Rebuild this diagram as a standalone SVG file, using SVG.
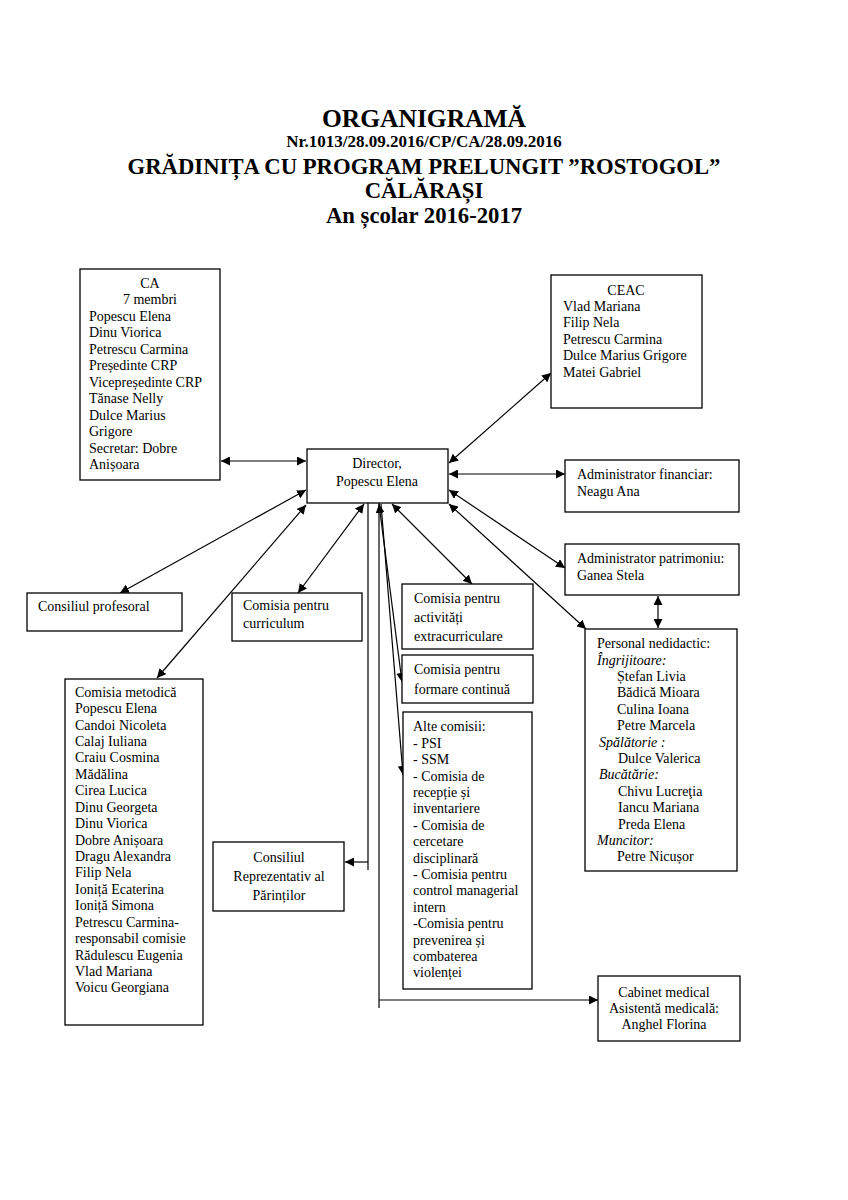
<svg xmlns="http://www.w3.org/2000/svg" width="848" height="1200" viewBox="0 0 848 1200">
<style>
text{font-family:"Liberation Serif","Times New Roman",serif;font-size:14px;fill:#000}
.t{font-weight:bold;text-anchor:middle}
.c{text-anchor:middle}
.i{font-style:italic}
rect{fill:#fff;stroke:#000;stroke-width:1.3}
.cn line,.cn path{stroke:#000;stroke-width:1.2;fill:none}
</style>
<defs>
<marker id="a" viewBox="0 0 10 10" refX="10" refY="5" markerWidth="9" markerHeight="9" markerUnits="userSpaceOnUse" orient="auto-start-reverse">
<path d="M0,0 L10,5 L0,10 Z" fill="#000"/>
</marker>
</defs>
<rect x="0" y="0" width="848" height="1200" style="stroke:none"/>
<g id="title">
<text class="t" x="424" y="127" style="font-size:25.5px">ORGANIGRAMĂ</text>
<text class="t" x="424" y="147" style="font-size:17px">Nr.1013/28.09.2016/CP/CA/28.09.2016</text>
<text class="t" x="424" y="174" style="font-size:22.7px">GRĂDINIȚA CU PROGRAM PRELUNGIT ”ROSTOGOL”</text>
<text class="t" x="424" y="198" style="font-size:22.7px">CĂLĂRAȘI</text>
<text class="t" x="424" y="223" style="font-size:22.7px">An școlar 2016-2017</text>
</g>
<g class="cn" id="connectors">
<line x1="221" y1="461" x2="306" y2="461" marker-start="url(#a)" marker-end="url(#a)"/>
<line x1="449" y1="463" x2="551" y2="373" marker-start="url(#a)" marker-end="url(#a)"/>
<line x1="449" y1="474" x2="565" y2="474" marker-start="url(#a)" marker-end="url(#a)"/>
<line x1="449" y1="490" x2="565" y2="568" marker-start="url(#a)" marker-end="url(#a)"/>
<line x1="449" y1="504" x2="586" y2="629" marker-start="url(#a)" marker-end="url(#a)"/>
<line x1="658" y1="596" x2="658" y2="628" marker-start="url(#a)" marker-end="url(#a)"/>
<line x1="306" y1="490" x2="120" y2="593" marker-start="url(#a)" marker-end="url(#a)"/>
<line x1="306" y1="505" x2="157" y2="678" marker-start="url(#a)" marker-end="url(#a)"/>
<line x1="364" y1="504" x2="298" y2="593" marker-start="url(#a)" marker-end="url(#a)"/>
<line x1="392" y1="504" x2="472" y2="584" marker-start="url(#a)" marker-end="url(#a)"/>
<line x1="379" y1="504" x2="402" y2="682" marker-start="url(#a)" marker-end="url(#a)"/>
<line x1="381" y1="504" x2="403" y2="775" marker-end="url(#a)"/>
<line x1="368" y1="503" x2="368" y2="870"/>
<line x1="368" y1="862" x2="345" y2="862" marker-end="url(#a)"/>
<line x1="379" y1="503" x2="379" y2="1008"/>
<line x1="379" y1="1000" x2="598" y2="1000" marker-end="url(#a)"/>
</g>
<g id="ca">
<rect x="80" y="269" width="140" height="211"/>
<text class="c" x="150" y="288">CA</text>
<text class="c" x="150" y="304">7 membri</text>
<text x="89" y="321">Popescu Elena</text>
<text x="89" y="337">Dinu Viorica</text>
<text x="89" y="354">Petrescu Carmina</text>
<text x="89" y="370">Președinte CRP</text>
<text x="89" y="387">Vicepreședinte CRP</text>
<text x="89" y="403">Tănase Nelly</text>
<text x="89" y="420">Dulce Marius</text>
<text x="89" y="436">Grigore</text>
<text x="89" y="453">Secretar: Dobre</text>
<text x="89" y="469">Anișoara</text>
</g>
<g id="ceac">
<rect x="551" y="275" width="151" height="133"/>
<text class="c" x="626" y="295">CEAC</text>
<text x="563" y="311">Vlad Mariana</text>
<text x="563" y="327">Filip Nela</text>
<text x="563" y="344">Petrescu Carmina</text>
<text x="563" y="360">Dulce Marius Grigore</text>
<text x="563" y="377">Matei Gabriel</text>
</g>
<g id="director">
<rect x="307" y="449" width="141" height="54"/>
<text class="c" x="377" y="468">Director,</text>
<text class="c" x="377" y="486">Popescu Elena</text>
</g>
<g id="adm-fin">
<rect x="565" y="460" width="174" height="52"/>
<text x="577" y="479">Administrator financiar:</text>
<text x="577" y="496">Neagu Ana</text>
</g>
<g id="adm-patr">
<rect x="565" y="544" width="174" height="51"/>
<text x="577" y="563">Administrator patrimoniu:</text>
<text x="577" y="580">Ganea Stela</text>
</g>
<g id="cons-prof">
<rect x="27" y="593" width="155" height="38"/>
<text x="38" y="611">Consiliul profesoral</text>
</g>
<g id="curriculum">
<rect x="232" y="593" width="130" height="48"/>
<text x="243" y="610">Comisia pentru</text>
<text x="243" y="628">curriculum</text>
</g>
<g id="extracurr">
<rect x="402" y="584" width="131" height="65"/>
<text x="414" y="603">Comisia pentru</text>
<text x="414" y="622">activități</text>
<text x="414" y="641">extracurriculare</text>
</g>
<g id="formare">
<rect x="402" y="655" width="131" height="48"/>
<text x="414" y="674">Comisia pentru</text>
<text x="414" y="694">formare continuă</text>
</g>
<g id="alte">
<rect x="403" y="712" width="129" height="277"/>
<text x="413" y="731">Alte comisii:</text>
<text x="413" y="748">- PSI</text>
<text x="413" y="764">- SSM</text>
<text x="413" y="781">- Comisia de</text>
<text x="413" y="797">recepție și</text>
<text x="413" y="813">inventariere</text>
<text x="413" y="830">- Comisia de</text>
<text x="413" y="846">cercetare</text>
<text x="413" y="863">disciplinară</text>
<text x="413" y="879">- Comisia pentru</text>
<text x="413" y="895">control managerial</text>
<text x="413" y="912">intern</text>
<text x="413" y="928">-Comisia pentru</text>
<text x="413" y="945">prevenirea și</text>
<text x="413" y="961">combaterea</text>
<text x="413" y="977">violenței</text>
</g>
<g id="personal">
<rect x="585" y="629" width="152" height="242"/>
<text x="597" y="648">Personal nedidactic:</text>
<text x="597" y="665" class="i">Îngrijitoare:</text>
<text x="617" y="681">Ștefan Livia</text>
<text x="617" y="697">Bădică Mioara</text>
<text x="617" y="714">Culina Ioana</text>
<text x="617" y="730">Petre Marcela</text>
<text x="599" y="747" class="i">Spălătorie :</text>
<text x="618" y="763">Dulce Valerica</text>
<text x="599" y="779" class="i">Bucătărie:</text>
<text x="618" y="796">Chivu Lucreţia</text>
<text x="618" y="812">Iancu Mariana</text>
<text x="618" y="829">Preda Elena</text>
<text x="597" y="845" class="i">Muncitor:</text>
<text x="617" y="861">Petre Nicușor</text>
</g>
<g id="metodica">
<rect x="65" y="679" width="138" height="346"/>
<text x="75" y="697">Comisia metodică</text>
<text x="75" y="713">Popescu Elena</text>
<text x="75" y="730">Candoi Nicoleta</text>
<text x="75" y="746">Calaj Iuliana</text>
<text x="75" y="762">Craiu Cosmina</text>
<text x="75" y="779">Mădălina</text>
<text x="75" y="795">Cirea Lucica</text>
<text x="75" y="812">Dinu Georgeta</text>
<text x="75" y="828">Dinu Viorica</text>
<text x="75" y="845">Dobre Anișoara</text>
<text x="75" y="861">Dragu Alexandra</text>
<text x="75" y="877">Filip Nela</text>
<text x="75" y="894">Ioniță Ecaterina</text>
<text x="75" y="910">Ioniță Simona</text>
<text x="75" y="927">Petrescu Carmina-</text>
<text x="75" y="943">responsabil comisie</text>
<text x="75" y="960">Rădulescu Eugenia</text>
<text x="75" y="976">Vlad Mariana</text>
<text x="75" y="992">Voicu Georgiana</text>
</g>
<g id="crp">
<rect x="213" y="842" width="131" height="69"/>
<text class="c" x="279" y="862">Consiliul</text>
<text class="c" x="279" y="881">Reprezentativ al</text>
<text class="c" x="279" y="900">Părinților</text>
</g>
<g id="cabinet">
<rect x="598" y="976" width="142" height="65"/>
<text class="c" x="664" y="997">Cabinet medical</text>
<text class="c" x="664" y="1013">Asistentă medicală:</text>
<text class="c" x="664" y="1029">Anghel Florina</text>
</g>
</svg>
